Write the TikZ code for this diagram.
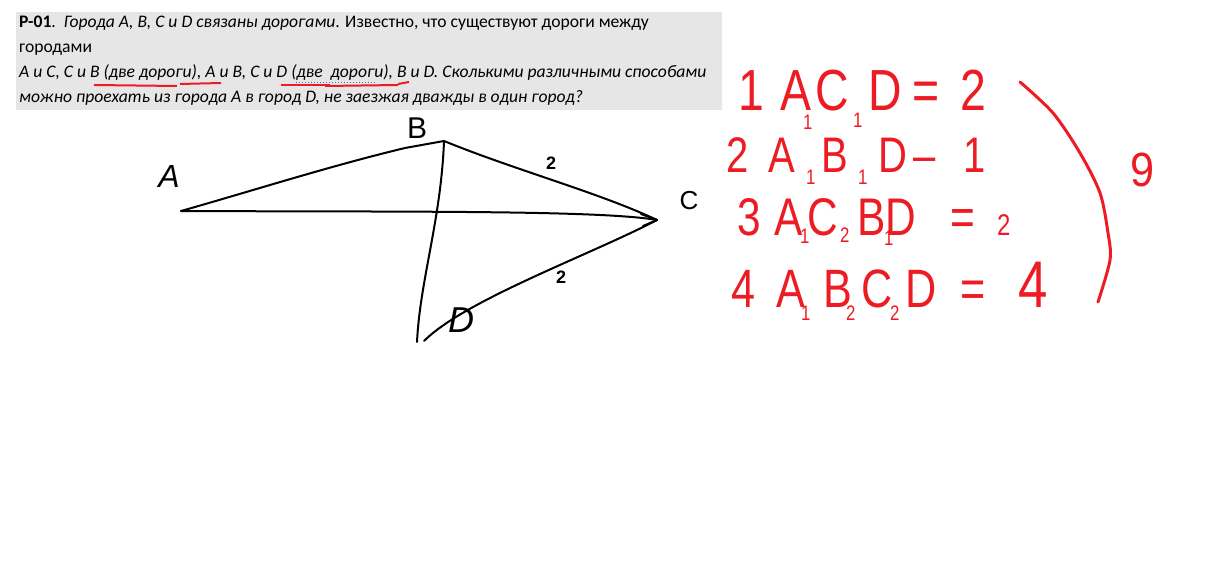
\documentclass[tikz,border=0pt]{standalone}
\usepackage{fontspec}
\setmainfont{Carlito}
\newfontfamily\hand{Liberation Sans}
\definecolor{pred}{HTML}{ED1C24}
\definecolor{boxgray}{HTML}{E6E6E6}
\definecolor{spellblue}{HTML}{3C6FE0}
\newcommand{\gl}[2]{\makebox[#1pt][l]{\scalebox{0.8}[1]{#2}}}
\newcommand{\sbx}[3]{\makebox[0pt][l]{\hspace*{#1pt}\raisebox{#2pt}{\fontsize{21}{21}\selectfont\scalebox{0.8}[1]{#3}}}}
\begin{document}
\begin{tikzpicture}[x=1pt,y=-1pt,
  txt/.style={anchor=base west,inner sep=0pt,font=\fontsize{17.6}{20}\selectfont},
  road/.style={line width=2pt,line cap=round,line join=round,black},
  lbl/.style={inner sep=0pt,font=\hand\fontsize{30}{30}\selectfont},
  numlbl/.style={inner sep=0pt,font=\hand\bfseries\fontsize{18}{18}\selectfont},
  redrow/.style={anchor=base west,inner sep=0pt,text=pred},
  ulred/.style={pred,line width=2pt},
  redstroke/.style={pred,line width=3pt,line cap=round,line join=round}]
\useasboundingbox (0,0) rectangle (1230,580);
\fill[boxgray] (16,12) rectangle (722,110);

% problem text
\node[txt] (t1) at (19,28) {\textbf{P-01}.\ \ \textit{Города A, B, C и D связаны дорогами}. Известно, что существуют дороги между};
\node[txt] (t2) at (19,53) {городами};
\node[txt] (t3) at (19,78) {\textit{A и C, C и B (две дороги), A и B, C и D (две\ \ дороги), B и D. Сколькими различными способами}};
\node[txt] (t4) at (19,103) {\textit{можно проехать из города A в город D, не заезжая дважды в один город?}};

% red underlines and spell-check mark
\draw[ulred] (94,85) -- (177,86);
\draw[ulred] (180,84) -- (221,83);
\draw[ulred] (281,85) -- (330,85);
\draw[ulred] (325,86) -- (398,85);
\draw[ulred] (398,84) -- (409,82);
\draw[spellblue,line width=1pt,dotted] (296,82.5) -- (377,82.5);

% diagram points
\coordinate (A) at (181,211);
\coordinate (Bt) at (405,148);
\coordinate (B) at (444,141);
\coordinate (C) at (657,220);
\coordinate (Dv) at (417,342);
\coordinate (D) at (424,341);

% roads
\draw[road] (A) .. controls (255,190) and (330,166) .. (Bt) -- (B);
\draw[road] (B) .. controls (441,220) and (420,280) .. (Dv);
\draw[road] (B) .. controls (515,170) and (600,193) .. (C);
\draw[road] (A) .. controls (400,212) and (600,210) .. (C);
\draw[road] (D) .. controls (465,300) and (590,255) .. (C);
\draw[road] (641,214) -- (C) -- (643,226);

% labels
\node[lbl,font=\hand\itshape\fontsize{32}{32}\selectfont] (lA) at (169,176) {A};
\node[lbl] (lB) at (417,128) {B};
\node[lbl,font=\hand\fontsize{26}{26}\selectfont] (lC) at (689,201) {C};
\node[lbl,font=\hand\itshape\fontsize{36}{36}\selectfont] (lD) at (461,320) {D};
\node[numlbl] (n1) at (551,163) {2};
\node[numlbl] (n2) at (561,277) {2};

% red solution
\node[redrow,font=\hand\fontsize{58}{58}\selectfont] (r1) at (738,111)
  {\gl{42}{1}\gl{35}{A}\sbx{-12}{-19}{1}\gl{53}{C}\sbx{-15}{-17}{1}\gl{44}{D}\gl{48}{=}\gl{30}{2}};
\node[redrow,font=\hand\fontsize{50}{50}\selectfont] (r2) at (726,173)
  {\gl{42}{2}\gl{53}{A}\sbx{-15}{-12}{1}\gl{57}{B}\sbx{-20}{-11}{1}\gl{35}{D}\gl{50}{–}\gl{30}{1}};
\node[redrow,font=\hand\fontsize{53}{53}\selectfont] (r3) at (737,235)
  {\gl{37}{3}\gl{33}{A}\sbx{-7}{-8}{1}\gl{50}{C}\sbx{-17}{-7}{2}\gl{28}{B}\sbx{-1}{-10}{1}\gl{65}{D}\gl{47}{=}\gl{30}{\fontsize{30}{30}\selectfont 2}};
\node[redrow,font=\hand\fontsize{54}{54}\selectfont] (r4) at (731,307)
  {\gl{45}{4}\gl{47}{A}\sbx{-22}{-13}{1}\gl{38}{B}\sbx{-15}{-13}{2}\gl{44}{C}\sbx{-15}{-13}{2}\gl{55}{D}\gl{58}{=}\gl{30}{\fontsize{66}{66}\selectfont 4}};
\draw[redstroke] plot[smooth] coordinates {(1020,82) (1053,113) (1080,153) (1100,193) (1108,233) (1110,260) (1098,302)};
\node[redrow,anchor=center,font=\hand\fontsize{48}{48}\selectfont] (total) at (1142,170) {\scalebox{0.9}[1]{9}};
\end{tikzpicture}
\end{document}
